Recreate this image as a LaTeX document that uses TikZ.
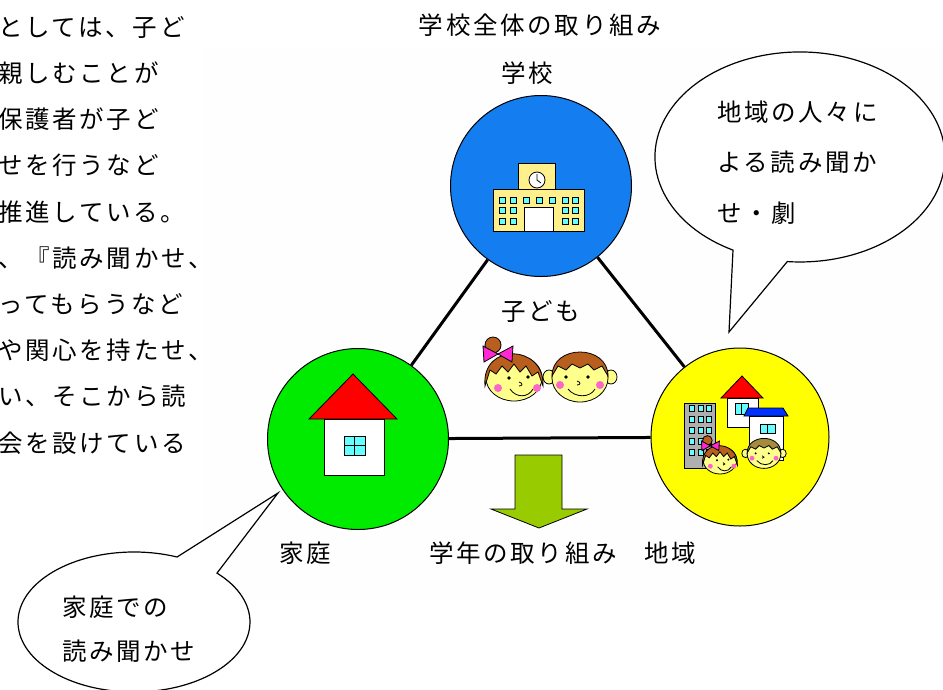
\documentclass[tikz,border=0pt]{standalone}
\usepackage{fontspec}
\newfontfamily\jp{Noto Sans CJK JP}[LetterSpace=11]

\definecolor{schoolblue}{RGB}{20,125,240}
\definecolor{homegreen}{RGB}{0,235,0}
\definecolor{areayellow}{RGB}{255,255,0}
\definecolor{arrowgreen}{RGB}{153,204,0}
\definecolor{wallyellow}{RGB}{255,240,140}
\definecolor{glass}{RGB}{102,255,255}
\definecolor{roofred}{RGB}{255,0,0}
\definecolor{roofblue}{RGB}{0,50,255}
\definecolor{towergray}{RGB}{175,175,175}
\definecolor{skin}{RGB}{255,255,140}
\definecolor{hairbrown}{RGB}{185,95,30}
\definecolor{hairolive}{RGB}{165,140,60}
\definecolor{bowpink}{RGB}{255,40,210}
\definecolor{cheek}{RGB}{255,100,200}
\definecolor{paper}{RGB}{254,254,254}

\tikzset{
	jptext/.style={font=\jp\fontsize{24.5}{29}\selectfont, inner sep=0pt,
		text height=21.6pt, text depth=2.9pt},
	hub/.style={circle, draw=black, line width=1pt, inner sep=0pt},
	link/.style={line width=3pt},
	bubble/.style={draw=black, fill=white, line width=1.2pt},
	outl/.style={draw=black, line width=0.8pt},
	% girl's face, origin at the middle of the face
	pics/girl/.style={code={
		\draw[outl, fill=hairbrown] (-21,-31) circle [radius=8];
		\draw[outl, fill=skin] (0,2) ellipse [x radius=28, y radius=23];
		\draw[outl, fill=hairbrown] (-29,10) .. controls (-33,-34) and (31,-32) .. (29,10)
			-- (24,-4) -- (18,0) -- (12,-10) -- (6,-4) -- (0,-12) -- (-6,-4)
			-- (-12,-10) -- (-18,-2) -- (-24,-6) -- cycle;
		\draw[outl, fill=bowpink] (-16,-22) -- (-31,-30) -- (-30,-14) -- cycle;
		\draw[outl, fill=bowpink] (-16,-22) -- (-1,-30) -- (-2,-14) -- cycle;
		\fill (-5,2) circle [radius=1.8];
		\fill (14,1) circle [radius=1.8];
		\draw[outl] (5,6) .. controls (9,7) and (9,10) .. (5,10);
		\draw[outl] (-4,13) .. controls (2,22) and (14,22) .. (19,13);
		\fill[cheek] (-16,12) circle [radius=4];
		\fill[cheek] (23,12) circle [radius=4];
	}},
	% boy's face, hair colour as argument
	pics/boy/.style={code={
		\draw[outl, fill=skin] (-31,-1) ellipse [x radius=6, y radius=7];
		\draw[outl, fill=skin] (31,-1) ellipse [x radius=6, y radius=7];
		\draw[outl, fill=skin] (0,0) ellipse [x radius=28, y radius=24];
		\draw[outl, fill=#1] (-28,-2) .. controls (-28,-34) and (28,-34) .. (28,-2)
			-- (22,-12) -- (14,-8) -- (8,-14) -- (0,-10) -- (-8,-14) -- (-14,-8)
			-- (-22,-12) -- cycle;
		\fill (-14,-1) circle [radius=1.8];
		\fill (8,-1) circle [radius=1.8];
		\draw[outl] (-3,3) .. controls (1,4) and (1,7) .. (-3,7);
		\draw[outl] (-12,11) .. controls (-5,20) and (10,20) .. (15,11);
		\fill[cheek] (-20,7) circle [radius=4];
		\fill[cheek] (20,7) circle [radius=4];
	}},
}

\begin{document}
\begin{tikzpicture}[x=1pt, y=-1pt]

	\useasboundingbox (0,0) rectangle (943,689);
	\clip (0,0) rectangle (943,689);
	\fill[white] (0,0) rectangle (943,689);
	\fill[paper] (203,47) rectangle (943,600);

	% text column (cut at the left)
	\foreach \txt [count=\i] in {としては、子ど, 親しむことが, 保護者が子ど, せを行うなど,
		推進している。, 、『読み聞かせ、, ってもらうなど, や関心を持たせ、,
		い、そこから読, 会を設けている}
		\node[jptext, anchor=west] (side\i) at (-2,{27+46.2*(\i-1)}) {\txt};

	% headings
	\node[jptext] (whole) at (540,25) {学校全体の取り組み};
	\node[jptext] (schoollbl) at (527,73) {学校};
	\node[jptext] (child) at (541,311) {子ども};

	% the three circles
	\node[hub, fill=schoolblue, minimum size=181pt] (school) at (541,186) {};
	\node[hub, fill=homegreen, minimum size=181pt] (home) at (358,439) {};
	\node[hub, fill=areayellow, minimum size=178pt] (area) at (740,437) {};

	\draw[link] (school) -- (home);
	\draw[link] (school) -- (area);
	\draw[link] (home) -- (area);

	% school building
	\draw[outl, fill=wallyellow] (518,163) rectangle (555,189);
	\draw[outl, fill=wallyellow] (493,189) rectangle (584,231);
	\draw[outl, fill=white] (537,180) circle [radius=8];
	\draw[outl] (537,174) -- (537,180) -- (541,183);
	\draw[outl, fill=white] (524,207) rectangle (553,231);
	\foreach \x in {502,513,526,539,552,565,575}
		\draw[outl, fill=glass] (\x-3,197) rectangle (\x+3,203);
	\foreach \x in {502,513,565,575}
		\foreach \y in {210,221}
			\draw[outl, fill=glass] (\x-3,\y-3) rectangle (\x+3,\y+3);

	% house
	\draw[outl, fill=roofred] (353,374) -- (397,419) -- (309,419) -- cycle;
	\draw[outl, fill=white] (324,419) rectangle (384,475);
	\draw[outl, fill=glass] (344,436) rectangle (365,455);
	\draw[outl] (354.5,436) -- (354.5,455) (344,445.5) -- (365,445.5);

	% town: tower block and two houses
	\draw[outl, fill=towergray] (684,403) rectangle (715,468);
	\foreach \x in {692,701,709}
		\foreach \y in {408,419,430,441,452}
			\draw[outl, fill=glass] (\x-2.5,\y-3) rectangle (\x+2.5,\y+3);
	\draw[outl, fill=roofred] (742,376) -- (763,398) -- (721,398) -- cycle;
	\draw[outl, fill=white] (727,398) rectangle (758,427);
	\draw[outl, fill=glass] (735,403) rectangle (748,414);
	\draw[outl] (741.5,403) -- (741.5,414);
	\draw[outl, fill=white] (749,416) rectangle (783,460);
	\draw[outl, fill=roofblue] (748,408) -- (783,408) -- (788,416) -- (744,416) -- cycle;
	\draw[outl, fill=glass] (760,424) rectangle (775,433);
	\draw[outl] (767.5,424) -- (767.5,433);
	\pic[scale=0.6] at (720,459) {girl};
	\pic[scale=0.6] at (764,454) {boy=hairolive};

	% children in the middle
	\pic at (514,376) {girl};
	\pic at (580,378) {boy=hairbrown};

	% year-level arrow
	\draw[outl, fill=arrowgreen] (515,455) -- (562,455) -- (562,509) -- (587,509)
		-- (539,528) -- (491,509) -- (515,509) -- cycle;

	% bottom labels
	\node[jptext] (homelbl) at (305,553) {家庭};
	\node[jptext] (grade) at (523,553) {学年の取り組み};
	\node[jptext] (arealbl) at (670,553) {地域};

	% speech bubbles
	\draw[bubble] (733,250.1) arc [start angle=117.5, end angle=455, x radius=145, y radius=105]
		-- (729,332) -- cycle;
	\node[jptext, anchor=west] (tip1) at (717,112) {地域の人々に};
	\node[jptext, anchor=west] (tip2) at (717,162) {よる読み聞か};
	\node[jptext, anchor=west] (tip3) at (717,213) {せ・劇};

	\draw[bubble] (217,573.1) arc [start angle=-44.3, end angle=291.8, x radius=116, y radius=70]
		-- (278,493) -- cycle;
	\node[jptext, anchor=west] (tip4) at (62,607) {家庭での};
	\node[jptext, anchor=west] (tip5) at (62,651) {読み聞かせ};

\end{tikzpicture}
\end{document}
